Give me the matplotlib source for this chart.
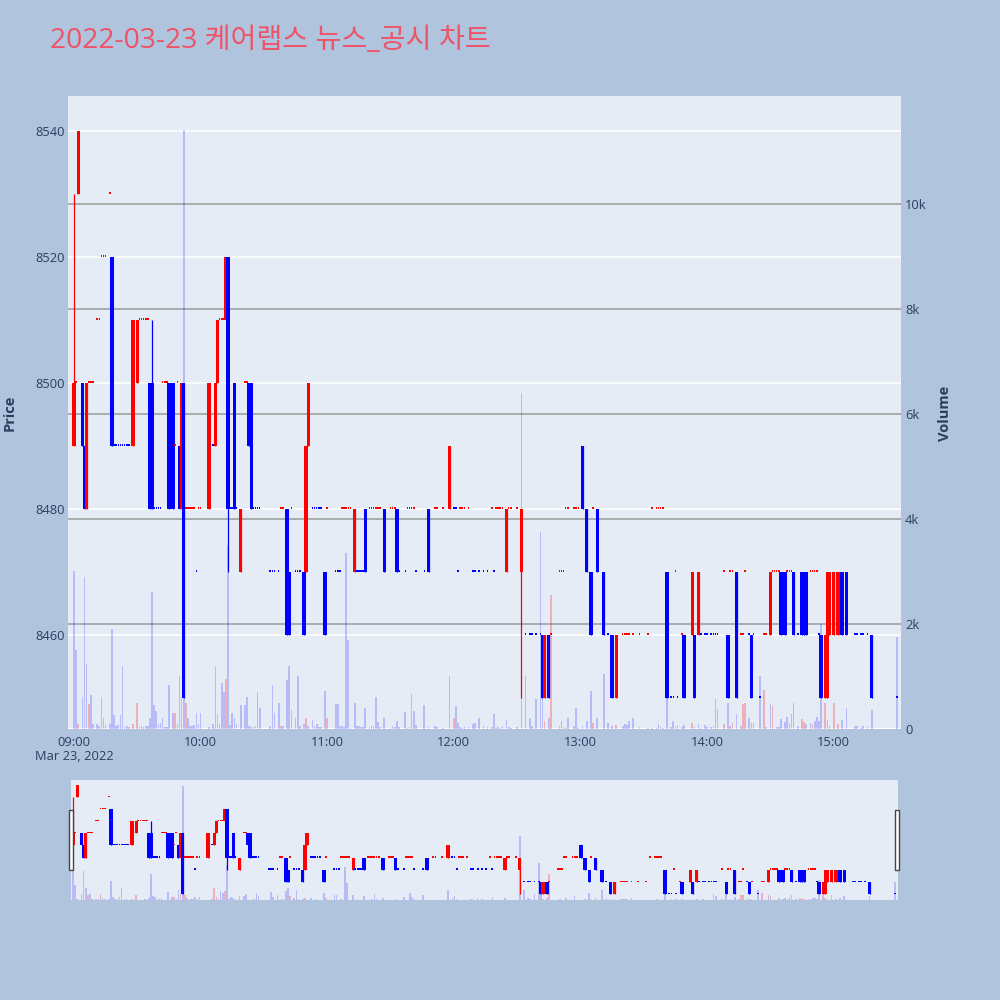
import matplotlib
matplotlib.use('Agg')
import matplotlib.pyplot as plt
from matplotlib.patches import Rectangle
from matplotlib.transforms import blended_transform_factory

plt.rcParams['font.family'] = ['Open Sans', 'Noto Sans CJK KR', 'DejaVu Sans']

title = '2022-03-23 케어랩스 뉴스_공시 차트'

# minutes after 09:00 for every 1-minute candle with trades
minutes = [0, 1, 2, 4, 5, 6, 7, 8, 9, 11, 12, 13, 14, 15, 17, 18, 19, 20, 21, 22,
           23, 24, 25, 26, 28, 30, 31, 32, 33, 34, 35, 36, 37, 38, 39, 40, 41, 42, 43, 44,
           45, 47, 48, 49, 50, 51, 52, 53, 54, 55, 56, 57, 58, 59, 60, 64, 66, 67, 68, 69,
           70, 71, 72, 73, 74, 75, 76, 77, 79, 81, 82, 83, 84, 85, 86, 87, 88, 93, 94, 95,
           97, 98, 99, 101, 102, 103, 105, 106, 107, 109, 110, 111, 113, 114, 115, 116, 117, 119, 120, 124,
           125, 126, 127, 128, 129, 130, 131, 133, 134, 135, 136, 137, 138, 140, 141, 142, 143, 144, 145, 147,
           150, 151, 152, 153, 154, 157, 158, 159, 160, 161, 162, 166, 168, 171, 172, 175, 178, 180, 181, 182,
           183, 184, 185, 187, 189, 190, 192, 194, 196, 198, 199, 200, 201, 202, 203, 205, 206, 207, 210, 212,
           214, 216, 217, 219, 221, 222, 223, 225, 226, 230, 231, 232, 233, 234, 237, 238, 239, 241, 243, 245,
           246, 248, 251, 253, 255, 257, 260, 261, 262, 263, 265, 268, 272, 274, 276, 277, 278, 279, 281, 283,
           284, 285, 286, 288, 289, 293, 294, 296, 297, 299, 300, 302, 303, 304, 305, 308, 310, 311, 312, 314,
           316, 317, 318, 320, 321, 322, 325, 327, 328, 330, 331, 332, 333, 334, 335, 337, 338, 339, 340, 341,
           343, 345, 346, 347, 349, 350, 351, 352, 353, 354, 356, 357, 358, 360, 362, 364, 366, 370, 371, 373,
           374, 376, 378, 390]

opens = [8490, 8500, 8530, 8500, 8490, 8480, 8500, 8500, 8500, 8510, 8510, 8520, 8520, 8520, 8530, 8520, 8490, 8490, 8490, 8490,
         8490, 8490, 8490, 8490, 8490, 8500, 8510, 8510, 8510, 8510, 8510, 8500, 8500, 8480, 8480, 8480, 8480, 8500, 8500, 8500,
         8500, 8500, 8490, 8500, 8490, 8480, 8500, 8480, 8480, 8480, 8480, 8480, 8470, 8480, 8480, 8480, 8490, 8490, 8500, 8510,
         8510, 8510, 8510, 8520, 8480, 8480, 8500, 8480, 8470, 8500, 8500, 8500, 8500, 8480, 8480, 8480, 8480, 8470, 8470, 8470,
         8470, 8480, 8480, 8480, 8470, 8480, 8470, 8470, 8470, 8470, 8470, 8490, 8480, 8480, 8480, 8480, 8480, 8470, 8480, 8470,
         8470, 8470, 8480, 8480, 8480, 8480, 8480, 8470, 8470, 8470, 8470, 8470, 8480, 8480, 8480, 8480, 8480, 8480, 8480, 8480,
         8480, 8480, 8480, 8480, 8470, 8470, 8480, 8480, 8480, 8480, 8470, 8470, 8480, 8480, 8480, 8480, 8480, 8480, 8480, 8470,
         8480, 8480, 8480, 8480, 8470, 8470, 8470, 8470, 8470, 8480, 8470, 8480, 8480, 8480, 8480, 8470, 8480, 8480, 8480, 8470,
         8460, 8460, 8460, 8460, 8460, 8460, 8450, 8460, 8460, 8470, 8470, 8470, 8480, 8480, 8480, 8480, 8480, 8490, 8480, 8470,
         8480, 8480, 8470, 8460, 8460, 8450, 8460, 8460, 8460, 8460, 8460, 8460, 8460, 8480, 8480, 8480, 8480, 8480, 8470, 8450,
         8450, 8470, 8450, 8460, 8460, 8460, 8460, 8460, 8460, 8460, 8460, 8460, 8460, 8460, 8460, 8470, 8460, 8470, 8470, 8470,
         8460, 8460, 8470, 8460, 8460, 8460, 8450, 8460, 8460, 8460, 8470, 8470, 8470, 8470, 8470, 8470, 8470, 8470, 8470, 8470,
         8460, 8470, 8470, 8470, 8470, 8470, 8470, 8470, 8460, 8460, 8450, 8450, 8460, 8460, 8460, 8470, 8470, 8460, 8460, 8460,
         8460, 8460, 8460, 8450]

closes = [8500, 8500, 8540, 8490, 8480, 8500, 8500, 8500, 8500, 8510, 8510, 8520, 8520, 8520, 8530, 8490, 8490, 8490, 8490, 8490,
          8490, 8490, 8490, 8490, 8510, 8510, 8510, 8510, 8510, 8510, 8510, 8480, 8480, 8480, 8480, 8480, 8480, 8500, 8500, 8500,
          8480, 8480, 8490, 8500, 8480, 8500, 8450, 8480, 8480, 8480, 8480, 8480, 8470, 8480, 8480, 8500, 8490, 8500, 8510, 8510,
          8510, 8510, 8520, 8480, 8480, 8480, 8480, 8480, 8480, 8500, 8500, 8490, 8480, 8480, 8480, 8480, 8480, 8470, 8470, 8470,
          8470, 8480, 8480, 8460, 8460, 8480, 8470, 8470, 8470, 8460, 8490, 8500, 8480, 8480, 8480, 8480, 8480, 8460, 8480, 8470,
          8470, 8470, 8480, 8480, 8480, 8480, 8480, 8480, 8470, 8470, 8470, 8470, 8470, 8480, 8480, 8480, 8480, 8480, 8480, 8470,
          8480, 8480, 8480, 8470, 8470, 8470, 8480, 8480, 8480, 8480, 8470, 8470, 8470, 8480, 8480, 8480, 8490, 8480, 8480, 8470,
          8480, 8480, 8480, 8480, 8470, 8470, 8470, 8470, 8470, 8480, 8470, 8480, 8480, 8480, 8480, 8480, 8480, 8480, 8480, 8480,
          8460, 8460, 8460, 8460, 8460, 8450, 8460, 8450, 8460, 8470, 8470, 8470, 8480, 8480, 8480, 8480, 8480, 8480, 8470, 8460,
          8480, 8470, 8460, 8460, 8450, 8460, 8460, 8460, 8460, 8460, 8460, 8460, 8460, 8480, 8480, 8480, 8480, 8480, 8450, 8450,
          8450, 8470, 8450, 8460, 8450, 8470, 8450, 8470, 8460, 8460, 8460, 8460, 8460, 8460, 8460, 8470, 8450, 8470, 8470, 8450,
          8460, 8460, 8470, 8460, 8450, 8460, 8450, 8460, 8460, 8470, 8470, 8470, 8470, 8470, 8460, 8460, 8470, 8470, 8470, 8460,
          8460, 8460, 8460, 8460, 8470, 8470, 8470, 8470, 8460, 8450, 8460, 8470, 8470, 8470, 8470, 8460, 8460, 8460, 8460, 8460,
          8460, 8460, 8450, 8450]

volumes = [3000, 1500, 100, 600, 2900, 1240, 470, 640, 100, 100, 60, 600, 200, 80, 100, 1900, 270, 60, 80, 270,
           1200, 30, 60, 40, 100, 500, 30, 50, 40, 60, 50, 200, 2600, 450, 340, 100, 120, 200, 30, 40,
           840, 300, 300, 100, 1000, 600, 11400, 500, 200, 50, 60, 80, 300, 100, 300, 30, 100, 1200, 280, 100,
           870, 700, 950, 3500, 80, 300, 200, 100, 450, 450, 600, 50, 30, 30, 60, 700, 400, 50, 830, 300,
           500, 50, 60, 940, 1200, 370, 200, 1000, 60, 100, 200, 50, 170, 50, 100, 40, 30, 730, 200, 470,
           470, 50, 60, 40, 3350, 1700, 20, 500, 50, 60, 40, 30, 400, 30, 50, 60, 600, 140, 30, 200,
           20, 50, 40, 150, 30, 330, 20, 40, 670, 350, 80, 460, 30, 50, 30, 20, 1000, 200, 430, 120,
           30, 20, 40, 30, 100, 120, 200, 60, 30, 40, 280, 20, 30, 20, 50, 170, 30, 20, 30, 6400,
           1000, 200, 60, 580, 3750, 640, 150, 200, 2560, 50, 150, 30, 20, 200, 50, 400, 20, 50, 150, 730,
           120, 200, 1040, 120, 60, 80, 60, 100, 80, 150, 200, 30, 20, 10, 20, 100, 30, 20, 1100, 40,
           150, 40, 80, 30, 80, 120, 30, 100, 20, 80, 40, 30, 50, 580, 380, 100, 500, 50, 120, 290,
           60, 480, 490, 200, 120, 120, 1000, 750, 40, 470, 430, 20, 30, 40, 190, 130, 230, 110, 290, 500,
           60, 190, 130, 100, 110, 100, 160, 230, 150, 2000, 500, 170, 60, 490, 100, 170, 400, 50, 50, 20,
           50, 30, 360, 1760]

# wicks that reach beyond the candle body
wick_high = {0: 8530, 37: 8510}
wick_low = {73: 8470, 212: 8450}

# minutes whose volume bar is drawn in red (buy side)
buy_minutes = [2, 7, 13, 28, 30, 48, 51, 53, 67, 68, 72, 98, 103, 110, 120, 180, 223, 226, 230, 233,
               246, 257, 293, 308, 312, 317, 318, 327, 331, 345, 346, 350, 356, 360, 362]

hour_ticks = [0, 60, 120, 180, 240, 300, 360]
hour_labels = ['09:00', '10:00', '11:00', '12:00', '13:00', '14:00', '15:00']
price_ticks = [8460, 8480, 8500, 8520, 8540]
vol_ticks = [0, 2000, 4000, 6000, 8000, 10000]
vol_labels = ['0', '2k', '4k', '6k', '8k', '10k']

BG = '#b0c4de'
PLOT_BG = '#e5ecf6'
TXT = '#2a3f5f'


def candle_colors():
    # flat candles take their colour from the move against the previous close
    cols = []
    prev_c = None
    up = True
    for o, c in zip(opens, closes):
        if c > o:
            up = True
        elif c < o:
            up = False
        elif prev_c is not None and c != prev_c:
            up = c > prev_c
        cols.append('#ff0000' if up else '#0000ff')
        prev_c = c
    return cols


def draw(axp, axv, body_w, flat_w, min_h):
    cols = candle_colors()
    highs = [wick_high.get(m, max(o, c)) for m, o, c in zip(minutes, opens, closes)]
    lows = [wick_low.get(m, min(o, c)) for m, o, c in zip(minutes, opens, closes)]
    vcols = [(1, 0, 0, 0.25) if m in buy_minutes else (0, 0, 1, 0.2) for m in minutes]
    axv.bar(minutes, volumes, width=0.8, color=vcols, linewidth=0, zorder=2)
    axp.vlines(minutes, lows, highs, colors=cols, linewidth=0.9, zorder=3)
    bottoms = [min(o, c) for o, c in zip(opens, closes)]
    heights = [max(abs(c - o), min_h) for o, c in zip(opens, closes)]
    widths = [body_w if c != o else flat_w for o, c in zip(opens, closes)]
    axp.bar(minutes, heights, width=widths, bottom=bottoms, color=cols, linewidth=0, zorder=4)


def setup_pair(rect, xlim, plim, vlim):
    axp = fig.add_axes(rect)
    axv = axp.twinx()
    axp.set_zorder(axv.get_zorder() + 1)
    axp.patch.set_visible(False)
    axv.patch.set_visible(True)
    axv.set_facecolor(PLOT_BG)
    axp.set_xlim(*xlim)
    axp.set_ylim(*plim)
    axv.set_ylim(*vlim)
    for a in (axp, axv):
        for s in a.spines.values():
            s.set_visible(False)
    return axp, axv


fig = plt.figure(figsize=(10, 10), dpi=100)
fig.patch.set_facecolor(BG)

# main chart
axp, axv = setup_pair([0.068, 0.271, 0.833, 0.633], (-2.84, 391.9), (8445.1, 8545.6), (0, 12057))

tr = blended_transform_factory(axv.transAxes, axp.transData)
for p in price_ticks:
    axv.plot([0, 1], [p, p], transform=tr, color='white', linewidth=1.2, zorder=0.5)
for v in vol_ticks[1:]:
    axv.axhline(v, color='#9a9a9a', linewidth=1.1, zorder=0.6)
axv.axhline(0, color='white', linewidth=1.5, zorder=0.6)

draw(axp, axv, 1.6, 0.75, 0.3)

axp.set_yticks(price_ticks)
axp.set_yticklabels([str(p) for p in price_ticks])
axv.set_yticks(vol_ticks)
axv.set_yticklabels(vol_labels)
axp.set_xticks(hour_ticks)
axp.set_xticklabels(hour_labels)
axp.tick_params(axis='y', length=0, labelsize=9.3, labelcolor=TXT, pad=2)
axp.tick_params(axis='x', length=0, labelsize=9.3, labelcolor=TXT, pad=5)
axv.tick_params(axis='y', length=0, labelsize=9.3, labelcolor=TXT, pad=3)

fig.text(0.074, 1 - 757 / 1000, 'Mar 23, 2022', fontsize=9.3, color=TXT, ha='center', va='center')
fig.text(0.010, 1 - 413 / 1000, 'Price', rotation=90, fontsize=10.5, fontweight='bold',
         color=TXT, ha='center', va='center')
fig.text(0.945, 1 - 413 / 1000, 'Volume', rotation=90, fontsize=10.5, fontweight='bold',
         color=TXT, ha='center', va='center')
fig.text(0.050, 1 - 41 / 1000, title, fontsize=20.3, color='#ef5368', ha='left', va='center')

# range slider
axm, axmv = setup_pair([0.071, 0.100, 0.827, 0.120], (minutes[0] - 1, minutes[-1] + 1.5),
                       (8445, 8544), (0, 12000))
draw(axm, axmv, 1.6, 0.9, 1.0)
for a in (axm, axmv):
    a.set_xticks([])
    a.set_yticks([])

for hx in (69, 895):
    fig.patches.append(Rectangle((hx / 1000, 1 - 870 / 1000), 4 / 1000, 60 / 1000,
                                 transform=fig.transFigure, facecolor='white',
                                 edgecolor='#444444', linewidth=1.0))

fig.savefig('out.png', dpi=100, facecolor=BG)
